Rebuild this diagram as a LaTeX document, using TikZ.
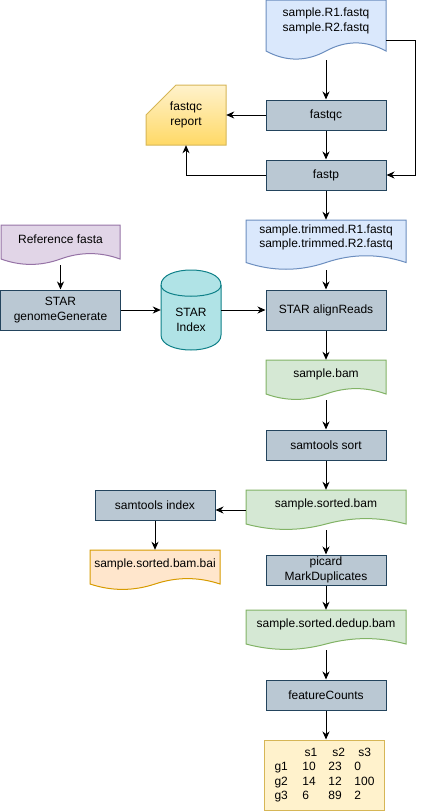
\documentclass[tikz,border=0pt]{standalone}
\usepackage{fontspec}
\setmainfont{Liberation Sans}
\usetikzlibrary{arrows.meta}
\definecolor{procF}{HTML}{BAC8D3}
\definecolor{procD}{HTML}{23445D}
\definecolor{blueF}{HTML}{DAE8FC}
\definecolor{blueD}{HTML}{6C8EBF}
\definecolor{greenF}{HTML}{D5E8D4}
\definecolor{greenD}{HTML}{82B366}
\definecolor{purpF}{HTML}{E1D5E7}
\definecolor{purpD}{HTML}{9673A6}
\definecolor{orF}{HTML}{FFE6CC}
\definecolor{orD}{HTML}{D79B00}
\definecolor{yelF}{HTML}{FFF2CC}
\definecolor{yelD}{HTML}{D6B656}
\definecolor{yelG}{HTML}{FFD966}
\definecolor{cylF}{HTML}{B0E3E6}
\definecolor{cylD}{HTML}{0E8088}
\tikzset{
  proc/.style={rectangle, fill=procF, draw=procD, line width=1pt, minimum width=120pt, minimum height=30pt, inner sep=0pt, align=center},
  docblue/.style={fill=blueF, draw=blueD},
  docgreen/.style={fill=greenF, draw=greenD},
  docpurp/.style={fill=purpF, draw=purpD},
  docorange/.style={fill=orF, draw=orD},
  arr/.style={-{Stealth[length=8pt,width=7pt,inset=2.5pt]}, line width=1pt, black}
}
\newcommand{\DocShape}[7]{%
  \draw[#6, line width=1pt] (#2-#4/2,#3) -- (#2+#4/2,#3) -- (#2+#4/2,#3+0.85*#5)
   .. controls (#2+#4/3,#3+0.67*#5) and (#2+#4/6,#3+0.67*#5) .. (#2,#3+0.85*#5)
   .. controls (#2-#4/6,#3+1.03*#5) and (#2-#4/3,#3+1.03*#5) .. (#2-#4/2,#3+0.85*#5) -- cycle;
  \node[minimum width=#4pt, minimum height=#5pt, inner sep=0pt,
    label={[align=center,yshift={0.15*#5pt}]center:{#7}}] (#1) at (#2,#3+#5/2) {};
}
\begin{document}
\begin{tikzpicture}[x=1pt,y=-1pt,font=\fontsize{12}{14.4}\selectfont]
\useasboundingbox (0,0) rectangle (425,811);

% documents
\DocShape{top}{326}{0}{120}{60}{docblue}{sample.R1.fastq\\sample.R2.fastq}
\DocShape{trim}{326}{220}{160}{50}{docblue}{sample.trimmed.R1.fastq\\sample.trimmed.R2.fastq}
\DocShape{ref}{60.5}{225}{119}{40}{docpurp}{Reference fasta}
\DocShape{bam}{326}{360}{120}{40}{docgreen}{sample.bam}
\DocShape{sbam}{326}{490}{160}{40}{docgreen}{sample.sorted.bam}
\DocShape{bai}{155}{550}{130}{40}{docorange}{sample.sorted.bam.bai}
\DocShape{dedup}{326}{610}{160}{40}{docgreen}{sample.sorted.dedup.bam}

% process boxes
\node[proc] (fastqc) at (326,115) {fastqc};
\node[proc] (fastp) at (326,175) {fastp};
\node[proc, minimum height=40pt] (align) at (326,310) {STAR alignReads};
\node[proc, minimum height=40pt] (gg) at (60.5,310) {STAR\\genomeGenerate};
\node[proc] (sort) at (326,445) {samtools sort};
\node[proc] (sidx) at (155,505) {samtools index};
\node[proc] (picard) at (326,570) {picard\\MarkDuplicates};
\node[proc] (fc) at (326,695) {featureCounts};

% fastqc report card
\draw[top color=yelF, bottom color=yelG, draw=yelD, line width=1pt]
  (146,115) -- (176,85) -- (226,85) -- (226,145) -- (146,145) -- cycle;
\node[minimum width=80pt, minimum height=60pt, inner sep=0pt, align=center] (report) at (186,115) {fastqc\\report};

% STAR index cylinder
\draw[fill=cylF, draw=cylD, line width=1pt]
  (161,285) .. controls (161,265) and (221,265) .. (221,285) -- (221,335)
  .. controls (221,355) and (161,355) .. (161,335) -- cycle;
\draw[cylD, line width=1pt] (161,285) .. controls (161,300) and (221,300) .. (221,285);
\node[minimum width=60pt, minimum height=80pt, inner sep=0pt,
  label={[align=center,yshift=-10pt]center:{STAR\\Index}}] (idx) at (191,310) {};

% count table
\node[fill=yelF, draw=yelD, line width=1pt, minimum width=120pt, minimum height=70pt,
  text width=100pt, align=left, inner sep=0pt] (tab) at (324.5,775) {%
\makebox[30pt][l]{}\makebox[28pt][l]{s1}\makebox[26pt][l]{s2}s3\\
\makebox[28pt][l]{g1}\makebox[26pt][l]{10}\makebox[26pt][l]{23}0\\
\makebox[28pt][l]{g2}\makebox[26pt][l]{14}\makebox[26pt][l]{12}100\\
\makebox[28pt][l]{g3}\makebox[26pt][l]{6}\makebox[26pt][l]{89}2};

% connectors
\draw[arr] (top.south) -- (fastqc.north);
\draw[arr] ([yshift=-10pt]top.east) -- ++(29,0) |- (fastp.east);
\draw[arr] (fastqc.west) -- (report.east);
\draw[arr] (fastp.west) -| (report.south);
\draw[arr] (fastqc.south) -- (fastp.north);
\draw[arr] (fastp.south) -- (trim.north);
\draw[arr] (trim.south) -- (align.north);
\draw[arr] (ref.south) -- (gg.north);
\draw[arr] (gg.east) -- (idx.west);
\draw[arr] (idx.east) -- (align.west);
\draw[arr] (align.south) -- (bam.north);
\draw[arr] (bam.south) -- (sort.north);
\draw[arr] (sort.south) -- (sbam.north);
\draw[arr] (sbam.west) -- (sbam.west -| sidx.east);
\draw[arr] (sidx.south) -- (bai.north);
\draw[arr] (sbam.south) -- (picard.north);
\draw[arr] (picard.south) -- (dedup.north);
\draw[arr] (dedup.south) -- (fc.north);
\draw[arr] (fc.south) -- (fc.south |- tab.north);
\end{tikzpicture}
\end{document}
